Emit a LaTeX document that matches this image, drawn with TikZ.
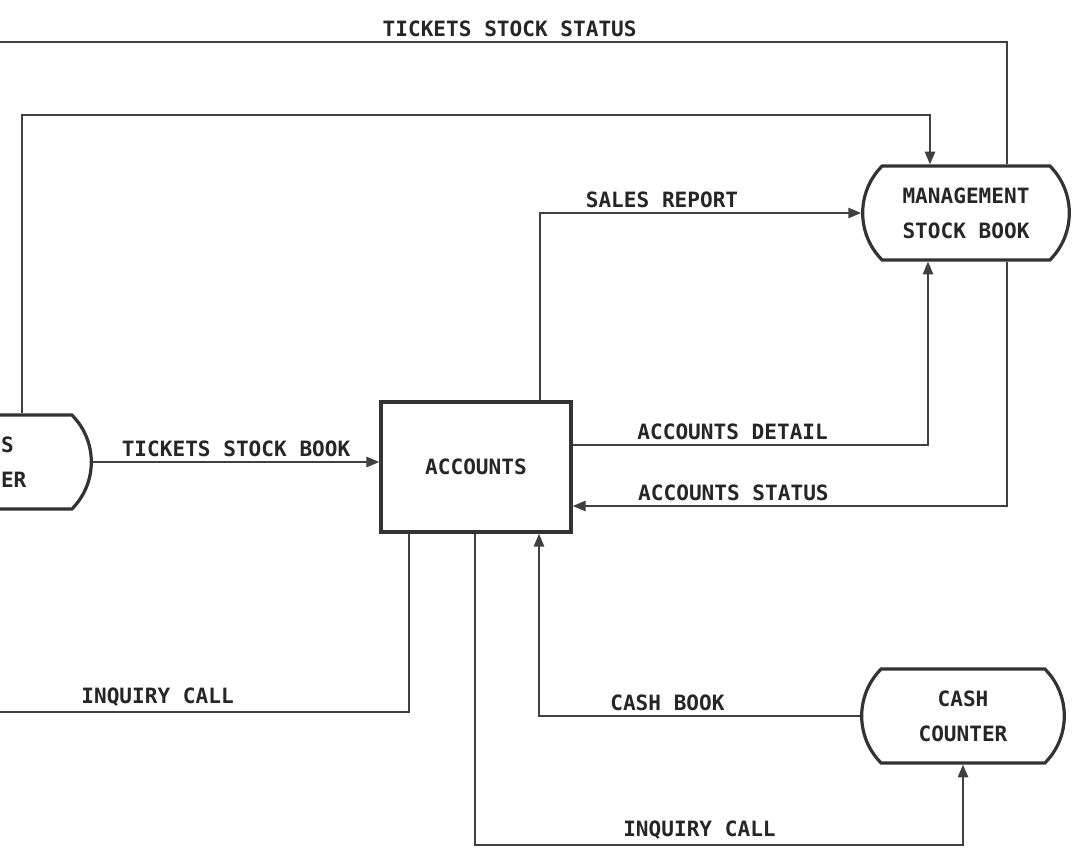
\documentclass[tikz,border=0pt]{standalone}
\usepackage{fontspec}
\setmonofont{DejaVu Sans Mono}
\usetikzlibrary{shapes.misc,arrows.meta}

\tikzset{
  store/.style={draw=black!80, line width=0.8mm, rounded rectangle, rounded rectangle arc length=90,
    minimum width=53mm, minimum height=23.5mm, align=center},
  process/.style={draw=black!80, line width=0.9mm, rectangle, minimum width=47.5mm, minimum height=32.5mm},
  flow/.style={draw=black!75, line width=0.4mm},
}

\begin{document}
\begin{tikzpicture}[x=0.25mm,y=-0.25mm,>={Triangle[length=3.2mm,width=2.6mm]},
    font=\ttfamily\bfseries\fontsize{15}{25}\selectfont, text=black!85]
        \useasboundingbox (0,0) rectangle (1073,848);
        \clip (0,0) rectangle (1073,848);
        \fill[white] (0,0) rectangle (1073,848);

        \node (accounts) [process] at (476,467) {ACCOUNTS};
        \node (mgmt) [store, minimum width=54mm] at (966,213) {MANAGEMENT\\STOCK BOOK};
        \node (cash) [store] at (963,716) {CASH\\COUNTER};
        \node (sales) [store, minimum width=57mm] at (-18,462) {SALES\\COUNTER};
        \coordinate (enquirer) at (-40,712);

        \draw[flow,->] (mgmt.north -| 1007,0) -- (1007,42) -- node[above,pos=0.475] {TICKETS STOCK STATUS} (-40,42) -- (sales.north -| -40,0);
        \draw[flow,->] (sales.north -| 22,0) |- (930,115) -- (mgmt.north -| 930,0);
        \draw[flow,->] (sales.east) -- node[above] {TICKETS STOCK BOOK} (sales.east -| accounts.west);
        \draw[flow,->] (accounts.north -| 540,0) |- node[above,pos=0.69] {SALES REPORT} (mgmt.west);
        \draw[flow,->] (accounts.east |- 0,445) -| node[above,pos=0.225] {ACCOUNTS DETAIL} (mgmt.south -| 928,0);
        \draw[flow,->] (mgmt.south -| 1007,0) |- node[above,pos=0.815] {ACCOUNTS STATUS} (accounts.east |- 0,506);
        \draw[flow,->] (accounts.south -| 409,0) |- node[above,pos=0.78] {INQUIRY CALL} (enquirer);
        \draw[flow,->] (cash.west) -| node[above,pos=0.3] {CASH BOOK} (accounts.south -| 539,0);
        \draw[flow,->] (accounts.south -| 475,0) -- (475,845) -| node[above,pos=0.23] {INQUIRY CALL} (cash.south);
    \end{tikzpicture}
\end{document}
